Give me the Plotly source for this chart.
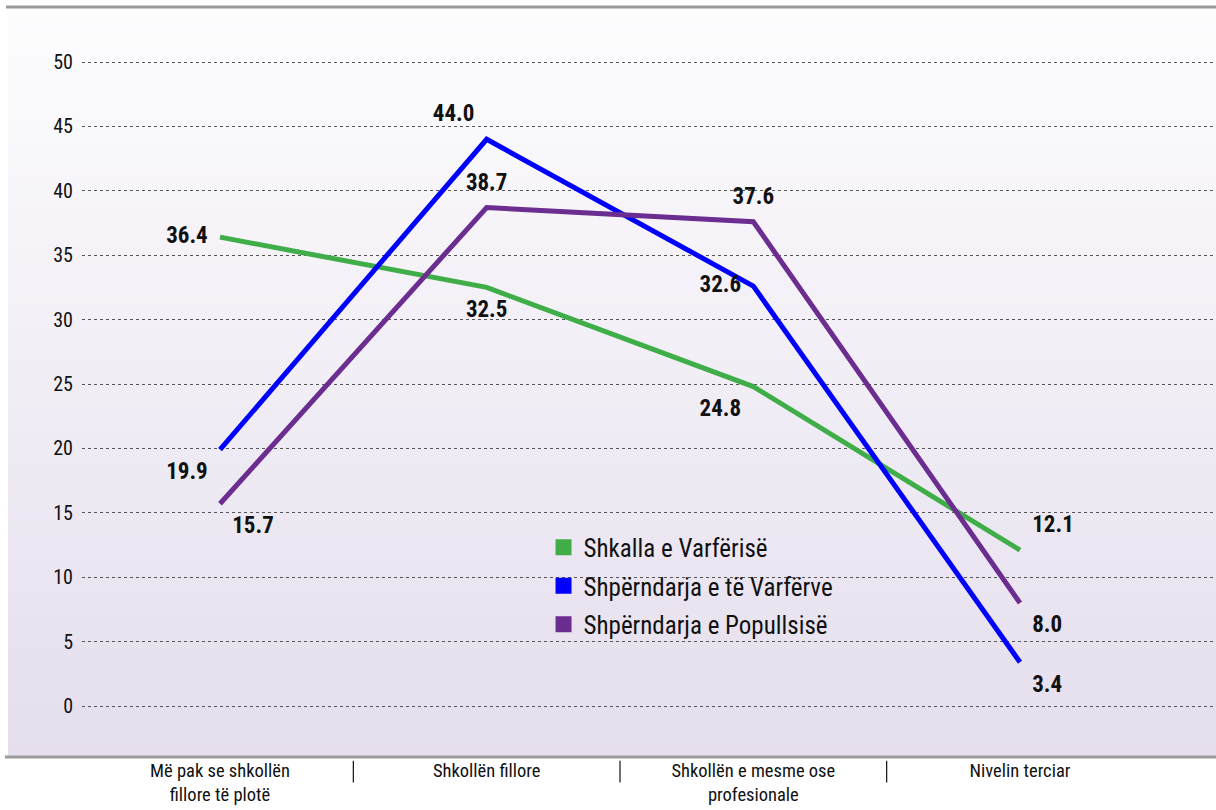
import plotly.graph_objects as go

categories = ["Më pak se shkollën<br>fillore të plotë", "Shkollën fillore",
              "Shkollën e mesme ose<br>profesionale", "Nivelin terciar"]
shkalla = [36.4, 32.5, 24.8, 12.1]
shperndarja_varferve = [19.9, 44.0, 32.6, 3.4]
shperndarja_popullsise = [15.7, 38.7, 37.6, 8.0]
series_names = ["Shkalla e Varfërisë", "Shpërndarja e të Varfërve", "Shpërndarja e Popullsisë"]
y_ticks = [0, 5, 10, 15, 20, 25, 30, 35, 40, 45, 50]

FONT = "Liberation Sans Narrow, Arial Narrow, Roboto Condensed, sans-serif"
colors = ["#3fae49", "#0000ff", "#6b2d90"]
label_pos = [
    ["middle left", "bottom center", "bottom left", "top right"],
    ["bottom left", "top left", "middle left", "bottom right"],
    ["bottom right", "top center", "top center", "bottom right"],
]
xs = list(range(len(categories)))

fig = go.Figure()

# gradient background (style)
def lerp(a, b, t):
    return int(round(a + (b - a) * t))
top_c = (253, 253, 254)
bot_c = (229, 222, 237)
n = 60
x0p = (8 - 82) / 1134
for i in range(n):
    t = (i + 0.5) / n
    c = tuple(lerp(top_c[k], bot_c[k], t) for k in range(3))
    fig.add_shape(type="rect", xref="paper", yref="paper",
                  x0=x0p, x1=1, y0=1 - (i + 1) / n - 0.001, y1=1 - i / n,
                  fillcolor="rgb(%d,%d,%d)" % c, line_width=0, layer="below")

for vals, name, col, pos in zip([shkalla, shperndarja_varferve, shperndarja_popullsise],
                                series_names, colors, label_pos):
    fig.add_trace(go.Scatter(
        x=xs, y=vals, mode="lines+markers+text", name=name,
        line=dict(color=col, width=5),
        marker=dict(size=18, color="rgba(0,0,0,0)"),
        text=["%.1f" % v for v in vals], textposition=pos,
        textfont=dict(family=FONT, size=23, color="#111", weight="bold"),
        showlegend=False, cliponaxis=False, hoverinfo="skip"))

for i, (name, col) in enumerate(zip(series_names, colors)):
    fig.add_trace(go.Scatter(
        x=[None], y=[None], mode="markers", name=name,
        marker=dict(symbol="square", size=20, color=col),
        legendgroup="g%d" % i, showlegend=True))

# top border
fig.add_shape(type="line", xref="paper", yref="paper", x0=(6 - 82) / 1134, x1=1,
              y0=1.0, y1=1.0, line=dict(color="#9a9a9a", width=3))
# bottom axis line across full width
fig.add_shape(type="line", xref="paper", yref="paper", x0=(5 - 82) / 1134, x1=1,
              y0=0.0, y1=0.0, line=dict(color="#9a9a9a", width=3))
# category separators
for sx in [0.5, 1.5, 2.5]:
    fig.add_shape(type="line", xref="x", yref="paper", x0=sx, x1=sx,
                  y0=-0.005, y1=-0.034, line=dict(color="#111", width=1.2))

fig.update_layout(
    width=1216, height=810,
    margin=dict(l=82, r=0, t=7, b=53),
    paper_bgcolor="white", plot_bgcolor="rgba(0,0,0,0)",
    font=dict(family=FONT, color="#111"),
    legend=dict(x=0.407, y=0.31, xanchor="left", yanchor="top",
                bgcolor="rgba(0,0,0,0)", font=dict(family=FONT, size=25, color="#111"),
                tracegroupgap=3, itemwidth=30),
    xaxis=dict(tickvals=xs, ticktext=categories, range=[-0.5175, 3.735],
               showgrid=False, zeroline=False, showline=False,
               ticks="", tickfont=dict(family=FONT, size=18.5, color="#111")),
    yaxis=dict(range=[-3.96, 54.27], tickvals=y_ticks, showgrid=True,
               gridcolor="#555", griddash="dot", gridwidth=1, zeroline=False,
               showline=False, ticks="", ticklabelstandoff=8,
               tickfont=dict(family=FONT, size=20, color="#111")),
)

fig.write_html("out.html", config={"displayModeBar": False},
               post_script="document.body.style.margin='0';")
